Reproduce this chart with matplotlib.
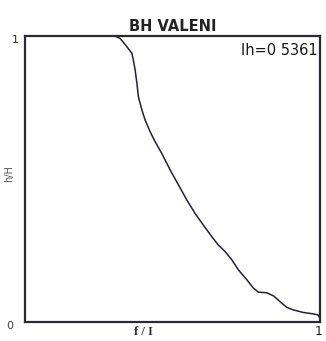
import matplotlib
matplotlib.use('Agg')
import matplotlib.pyplot as plt

# Hypsometric curve (relative area vs relative height)
rel_area = [0.0, 0.305, 0.322, 0.345, 0.362, 0.367, 0.373, 0.379, 0.384, 0.396,
            0.407, 0.424, 0.441, 0.463, 0.492, 0.520, 0.548, 0.576, 0.604, 0.633,
            0.655, 0.678, 0.701, 0.723, 0.752, 0.774, 0.791, 0.819, 0.842, 0.864,
            0.887, 0.909, 0.943, 0.977, 0.994, 1.0]
rel_height = [1.0, 1.0, 0.992, 0.963, 0.940, 0.916, 0.881, 0.835, 0.788, 0.741,
              0.706, 0.665, 0.630, 0.590, 0.531, 0.479, 0.427, 0.380, 0.339, 0.298,
              0.269, 0.246, 0.217, 0.182, 0.147, 0.118, 0.104, 0.102, 0.091, 0.071,
              0.051, 0.042, 0.033, 0.028, 0.024, 0.01]
title = 'BH VALENI'
integral_label = 'Ih=0 5361'

plt.rcParams['font.family'] = ['DejaVu Sans']

fig = plt.figure(figsize=(3.26, 3.41), dpi=100)
ax = fig.add_axes([0.077, 0.056, 0.905, 0.838])
ax.plot(rel_area, rel_height, color='#222233', lw=1.1)
ax.set_xlim(0, 1)
ax.set_ylim(0, 1)
for s in ax.spines.values():
    s.set_linewidth(1.6)
    s.set_color('#2a2a35')
ax.set_xticks([])
ax.set_yticks([])

ax.set_title(title, fontsize=10.5, fontweight='bold', color='#222', pad=4)
ax.text(0.99, 0.975, integral_label, transform=ax.transAxes, ha='right', va='top',
        fontsize=10.5, color='#1a1a1a', family='DejaVu Sans Condensed')
ax.text(-0.02, 0.985, '1', transform=ax.transAxes, ha='right', va='center', fontsize=8, color='#333')
ax.text(-0.04, -0.015, '0', transform=ax.transAxes, ha='right', va='center', fontsize=8, color='#444')
ax.text(0.995, -0.035, '1', transform=ax.transAxes, ha='center', va='center', fontsize=9, color='#222')
ax.text(0.40, -0.035, 'f / I', transform=ax.transAxes, ha='center', va='center', fontsize=9,
        fontweight='bold', color='#333', family='Liberation Serif')
ax.text(-0.055, 0.52, 'h/H', transform=ax.transAxes, ha='center', va='center', fontsize=7,
        rotation=90, color='#555')

fig.savefig('out.png', dpi=100)
